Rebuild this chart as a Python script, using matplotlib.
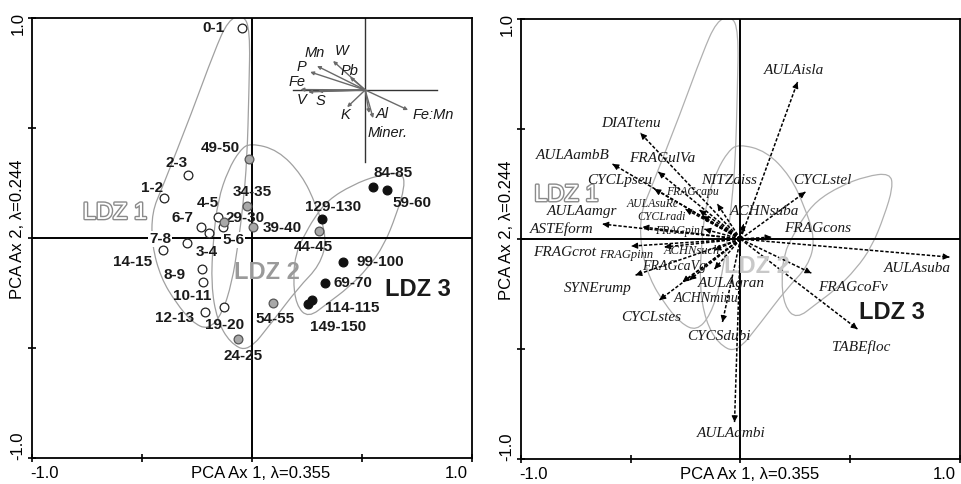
import numpy as np
import matplotlib
matplotlib.use("Agg")
import matplotlib.pyplot as plt
from matplotlib.path import Path
from matplotlib.patches import PathPatch
import matplotlib.patheffects as pe

# --- DATA: left panel (samples) ---
SAMPLE_NAMES = ["0-1", "1-2", "2-3", "3-4", "4-5", "5-6", "6-7", "7-8", "8-9", "10-11",
                "12-13", "14-15", "19-20",
                "24-25", "29-30", "34-35", "39-40", "44-45", "49-50", "54-55",
                "59-60", "69-70", "84-85", "99-100", "114-115", "129-130", "149-150"]
SAMPLE_X = [-0.045, -0.400, -0.291, -0.195, -0.155, -0.132, -0.232, -0.295, -0.227, -0.223,
            -0.214, -0.405, -0.127,
            -0.064, -0.127, -0.023, 0.005, 0.305, -0.014, 0.095,
            0.614, 0.332, 0.550, 0.414, 0.273, 0.318, 0.255]
SAMPLE_Y = [0.955, 0.182, 0.286, 0.023, 0.095, 0.050, 0.050, -0.023, -0.141, -0.200,
            -0.336, -0.055, -0.314,
            -0.459, 0.073, 0.145, 0.050, 0.032, 0.359, -0.295,
            0.218, -0.205, 0.232, -0.109, -0.282, 0.086, -0.300]
SAMPLE_ZONE = [1] * 13 + [2] * 7 + [3] * 7
SAMPLE_LABEL_X = [-0.177, -0.455, -0.341, -0.205, -0.200, -0.086, -0.318, -0.418, -0.350, -0.273,
                  -0.350, -0.541, -0.123,
                  -0.041, -0.032, 0.000, 0.136, 0.277, -0.145, 0.105,
                  0.727, 0.459, 0.641, 0.582, 0.455, 0.368, 0.391]
SAMPLE_LABEL_Y = [0.955, 0.227, 0.341, -0.064, 0.159, -0.009, 0.091, -0.005, -0.168, -0.264,
                  -0.364, -0.109, -0.395,
                  -0.536, 0.091, 0.209, 0.045, -0.041, 0.409, -0.368,
                  0.159, -0.205, 0.295, -0.109, -0.318, 0.141, -0.405]

# environmental vectors (inset of left panel)
ENV_ORIGIN = (0.514, 0.673)
ENV_NAMES = ["Mn", "W", "Pb", "P", "Fe", "V", "S", "K", "Al", "Miner.", "Fe:Mn"]
ENV_X = [0.295, 0.368, 0.445, 0.264, 0.220, 0.255, 0.300, 0.432, 0.550, 0.532, 0.709]
ENV_Y = [0.782, 0.805, 0.732, 0.755, 0.675, 0.664, 0.668, 0.595, 0.545, 0.568, 0.582]
ENV_LABEL_X = [0.286, 0.409, 0.441, 0.223, 0.205, 0.227, 0.309, 0.423, 0.591, 0.618, 0.823]
ENV_LABEL_Y = [0.841, 0.850, 0.759, 0.777, 0.709, 0.627, 0.623, 0.559, 0.564, 0.477, 0.559]

# --- DATA: right panel (species) ---
SPECIES = ["AULAisla", "DIATtenu", "AULAambB", "FRAGulVa", "CYCLpseu", "FRAGcapu", "AULAsuRe",
           "CYCLradi", "FRAGpinI", "AULAamgr", "ASTEform", "FRAGcrot", "FRAGpinn", "ACHNsuch",
           "FRAGcaVg", "SYNErump", "AULAgran", "ACHNminu", "CYCLstes", "CYCSdubi", "AULAambi",
           "TABEfloc", "FRAGcoFv", "AULAsuba", "FRAGcons", "ACHNsuba", "CYCLstel", "NITZdiss"]
SP_X = [0.260, -0.456, -0.583, -0.374, -0.392, -0.187, -0.251,
        -0.173, -0.164, -0.446, -0.629, -0.497, -0.346, -0.118,
        -0.232, -0.478, -0.118, -0.264, -0.369, -0.082, -0.027,
        0.533, 0.323, 0.952, 0.141, 0.014, 0.296, -0.105]
SP_Y = [0.714, 0.482, 0.341, 0.305, 0.227, 0.132, 0.136,
        0.105, 0.045, 0.055, 0.068, -0.032, -0.036, -0.050,
        -0.186, -0.164, -0.136, -0.195, -0.277, -0.377, -0.832,
        -0.409, -0.155, -0.082, 0.009, 0.068, 0.214, 0.159]
SP_LABEL_X = [0.246, -0.497, -0.765, -0.355, -0.551, -0.219, -0.401,
              -0.360, -0.278, -0.720, -0.815, -0.802, -0.519, -0.223,
              -0.301, -0.651, -0.041, -0.155, -0.405, -0.096, -0.041,
              0.551, 0.510, 0.806, 0.351, 0.109, 0.374, -0.050]
SP_LABEL_Y = [0.768, 0.527, 0.382, 0.364, 0.268, 0.214, 0.159,
              0.100, 0.036, 0.123, 0.045, -0.059, -0.073, -0.055,
              -0.127, -0.223, -0.200, -0.268, -0.355, -0.441, -0.882,
              -0.491, -0.218, -0.136, 0.050, 0.123, 0.264, 0.268]
SP_SIZE = [11, 11, 11, 11, 11, 8.5, 8.5,
           8.5, 8.5, 11, 11, 11, 9, 9,
           10, 11, 11, 10, 11, 11, 11,
           11, 11, 11, 11, 11, 11, 11]

# envelopes of the three zones (same in both panels)
LDZ1_ENV = [(-0.041, 1.018), (-0.009, 0.945), (-0.014, 0.673), (-0.023, 0.355), (-0.041, 0.150),
            (-0.064, -0.032), (-0.091, -0.200), (-0.136, -0.345), (-0.200, -0.418), (-0.273, -0.382),
            (-0.345, -0.295), (-0.414, -0.182), (-0.455, -0.032), (-0.455, 0.118), (-0.409, 0.227),
            (-0.273, 0.573), (-0.173, 0.845), (-0.109, 0.991)]
LDZ2_ENV = [(-0.009, 0.432), (0.118, 0.400), (0.227, 0.286), (0.291, 0.150), (0.341, 0.000),
            (0.309, -0.123), (0.209, -0.227), (0.091, -0.382), (-0.018, -0.518), (-0.100, -0.477),
            (-0.159, -0.373), (-0.186, -0.214), (-0.177, -0.009), (-0.155, 0.173), (-0.109, 0.309),
            (-0.055, 0.400)]
LDZ3_ENV = [(0.682, 0.300), (0.695, 0.236), (0.655, 0.105), (0.600, -0.032), (0.527, -0.136),
            (0.436, -0.227), (0.345, -0.295), (0.255, -0.364), (0.200, -0.305), (0.186, -0.182),
            (0.200, -0.064), (0.236, 0.009), (0.282, 0.091), (0.345, 0.173), (0.455, 0.241),
            (0.573, 0.286)]

SANS = "Liberation Sans"
SERIF = "Liberation Serif"


def smooth_closed(pts):
    pts = np.asarray(pts, dtype=float)
    mids = (pts + np.roll(pts, -1, axis=0)) / 2
    verts = [mids[-1]]
    codes = [Path.MOVETO]
    for i in range(len(pts)):
        verts += [pts[i], mids[i]]
        codes += [Path.CURVE3, Path.CURVE3]
    return Path(verts, codes)


def setup_axes(ax, ldz_pos, ldz2_color, env_color):
    ax.set_xlim(-1, 1)
    ax.set_ylim(-1, 1)
    for s in ax.spines.values():
        s.set_linewidth(1.3)
    ax.set_xticks([-1, -0.5, 0, 0.5, 1])
    ax.set_yticks([-1, -0.5, 0, 0.5, 1])
    ax.tick_params(direction="inout", length=6, width=1.2, labelbottom=False, labelleft=False)
    ax.axhline(0, color="black", lw=1.4, zorder=2)
    ax.axvline(0, color="black", lw=1.4, zorder=2)
    for env in (LDZ1_ENV, LDZ2_ENV, LDZ3_ENV):
        ax.add_patch(PathPatch(smooth_closed(env), fill=False, ec=env_color, lw=0.9, zorder=1))
    # tick labels and axis titles
    kw = dict(family=SANS, fontsize=12, transform=ax.transAxes)
    ax.text(-0.005, -0.036, "-1.0", ha="left", va="center", **kw)
    ax.text(0.99, -0.036, "1.0", ha="right", va="center", **kw)
    ax.text(0.52, -0.036, "PCA Ax 1, \u03bb=0.355", ha="center", va="center", **kw)
    ax.text(-0.032, 1.014, "1.0", ha="center", va="top", rotation=90, **kw)
    ax.text(-0.032, -0.005, "-1.0", ha="center", va="bottom", rotation=90, **kw)
    ax.text(-0.032, 0.52, "PCA Ax 2, \u03bb=0.244", ha="center", va="center", rotation=90, **kw)
    # zone labels
    (x1, y1), (x2, y2), (x3, y3) = ldz_pos
    ax.text(x1, y1, "LDZ 1", family=SANS, fontsize=17, color="white", ha="center", va="center",
            path_effects=[pe.withStroke(linewidth=2.0, foreground="#8a8a8a")], zorder=4)
    ax.text(x2, y2, "LDZ 2", family=SANS, fontsize=17, fontweight="bold", color=ldz2_color,
            ha="center", va="center", zorder=4)
    ax.text(x3, y3, "LDZ 3", family=SANS, fontsize=17, fontweight="bold", color="#1a1a1a",
            ha="center", va="center", zorder=4)


fig = plt.figure(figsize=(9.61, 4.84), dpi=100)
axL = fig.add_axes([0.0333, 0.0537, 0.458, 0.909])
axR = fig.add_axes([0.5421, 0.0516, 0.4568, 0.909])

# ---------------- left panel ----------------
setup_axes(axL, [(-0.623, 0.114), (0.068, -0.155), (0.755, -0.232)], "#9a9a9a", "#a0a0a0")

fills = {1: "white", 2: "#a8a8a8", 3: "#111111"}
edges = {1: "#222222", 2: "#555555", 3: "#111111"}
for name, x, y, z, lx, ly in zip(SAMPLE_NAMES, SAMPLE_X, SAMPLE_Y, SAMPLE_ZONE,
                                 SAMPLE_LABEL_X, SAMPLE_LABEL_Y):
    axL.plot(x, y, "o", ms=6.3, mfc=fills[z], mec=edges[z], mew=0.9, zorder=5)
    bbox = None
    if name in ("7-8", "5-6"):
        bbox = dict(boxstyle="square,pad=0.05", fc="white", ec="none")
    axL.text(lx, ly, name, family=SANS, fontsize=11, fontweight="bold", color="#1a1a1a",
             ha="center", va="center", zorder=4, bbox=bbox)

# inset of environmental vectors
ox, oy = ENV_ORIGIN
axL.plot([ox, ox], [0.345, 1.0], color="#333333", lw=1.0, zorder=2)
axL.plot([0.186, 0.84], [oy, oy], color="#333333", lw=1.0, zorder=2)
for name, x, y, lx, ly in zip(ENV_NAMES, ENV_X, ENV_Y, ENV_LABEL_X, ENV_LABEL_Y):
    axL.annotate("", xy=(x, y), xytext=(ox, oy),
                 arrowprops=dict(arrowstyle="-|>", color="#6a6a6a", lw=1.0,
                                 mutation_scale=5, shrinkA=0, shrinkB=0), zorder=3)
    axL.text(lx, ly, name, family=SANS, fontsize=10.5, fontstyle="italic", color="#1a1a1a",
             ha="center", va="center", zorder=4)

# ---------------- right panel ----------------
setup_axes(axR, [(-0.793, 0.2), (0.073, -0.127), (0.692, -0.332)], "#c8c8c8", "#b0b0b0")

for name, x, y, lx, ly, fs in zip(SPECIES, SP_X, SP_Y, SP_LABEL_X, SP_LABEL_Y, SP_SIZE):
    axR.plot([0, x], [0, y], color="black", lw=1.1, ls=(0, (2.2, 1.2)), zorder=3)
    axR.annotate("", xy=(x, y), xytext=(0.98 * x, 0.98 * y),
                 arrowprops=dict(arrowstyle="-|>", color="black", lw=0.8,
                                 mutation_scale=9, shrinkA=0, shrinkB=0), zorder=3)
    axR.text(lx, ly, name, family=SERIF, fontsize=fs, fontstyle="italic", color="#1a1a1a",
             ha="center", va="center", zorder=4)

fig.savefig("out.png", dpi=100)
